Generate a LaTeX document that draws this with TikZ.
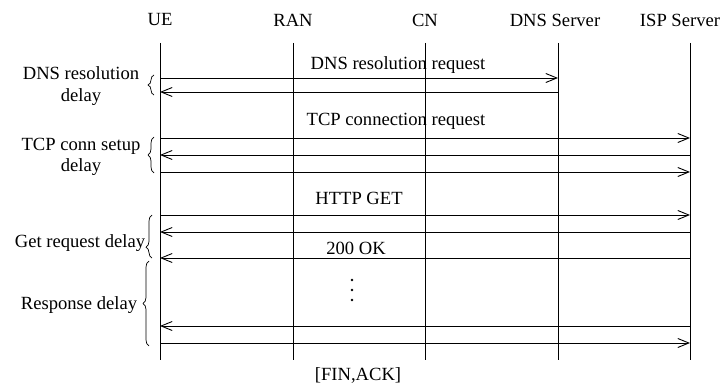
\documentclass[tikz,border=0pt]{standalone}
\usepackage{fontspec}
\setmainfont{Liberation Serif}
\usetikzlibrary{arrows.meta,decorations.pathreplacing}
\tikzset{
  lifeline/.style = {line width = 0.9pt},
  msg/.style = {line width = 0.9pt, -{Straight Barb[length=11pt,width=9pt,line width=0.9pt]}},
  delaybrace/.style = {decorate, line width = 0.7pt, decoration = {brace, amplitude = 6pt}},
  txt/.style = {inner sep = 0pt, align = center}
}
\begin{document}
\begin{tikzpicture}[x = 1pt, y = -1pt, font = \fontsize{18.6}{21.5}\selectfont]
\useasboundingbox (0,0) rectangle (721,385);
\pgfmathsetmacro\top{43};
\pgfmathsetmacro\bottom{360};
\node[txt] (ue) at (160,20) {UE};
\node[txt] (ran) at (293,20) {RAN};
\node[txt] (cn) at (425,20) {CN};
\node[txt] (dns) at (555,20) {DNS Server};
\node[txt] (isp) at (680,20) {ISP Server};
\foreach \n/\x in {ue/160,ran/293,cn/425,dns/558,isp/690} {
  \coordinate (\n top) at (\x,\top);
  \coordinate (\n bot) at (\x,\bottom);
  \draw [lifeline] (\n top) -- (\n bot);
}
\foreach \y/\a/\b in {78/ue/dns, 92/dns/ue, 138/ue/isp, 155/isp/ue, 172/ue/isp, 215/ue/isp, 232/isp/ue, 258/isp/ue, 326/isp/ue, 343/ue/isp}
  \draw [msg] (\a top |- 0,\y) -- (\b top |- 0,\y);
\node[txt] (dnsreq) at (398,65) {DNS resolution request};
\node[txt] (tcpreq) at (396,121) {TCP connection request};
\node[txt] (get) at (359,198) {HTTP GET};
\node[txt] (ok) at (356,248) {200 OK};
\node[txt] (fin) at (358,375) {[FIN,ACK]};
\foreach \y in {280,290,300} \fill (352,\y) circle (1.4pt);
\draw [delaybrace] (154,95) -- (154,75);
\draw [delaybrace] (154,173) -- (154,137);
\draw [delaybrace, decoration = {aspect = 0.25}] (152,258) -- (152,215);
\draw [delaybrace] (149,346) -- (149,261);
\node[txt] (dnsdelay) at (81,86) {DNS resolution\\delay};
\node[txt] (tcpdelay) at (81,157) {TCP conn setup\\delay};
\node[txt] (getdelay) at (80,243) {Get request delay};
\node[txt] (respdelay) at (79,305) {Response delay};
\end{tikzpicture}
\end{document}
